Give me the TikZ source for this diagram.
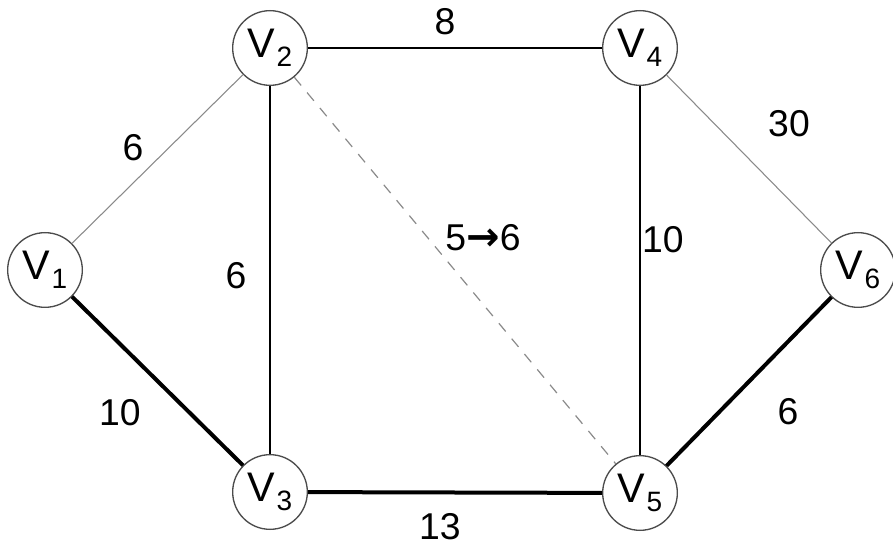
\documentclass[tikz,border=0pt]{standalone}
\usepackage{fontspec}
\setmainfont{Liberation Sans}
\newfontfamily\symfont{DejaVu Sans}
\usetikzlibrary{positioning}
\definecolor{edgeG}{HTML}{8A8A8A}
\newcommand{\Vsub}[1]{V\kern1pt\raisebox{-7pt}{\fontsize{21}{21}\selectfont #1}}

\begin{document}
\begin{tikzpicture}[x=0.75pt,y=-0.75pt,
  vtx/.style={draw=black!70,line width=1pt,circle,minimum size=56pt,inner sep=0pt,fill=white,font=\fontsize{31}{31}\selectfont},
  wgt/.style={font=\fontsize{28}{28}\selectfont,inner sep=1pt},
  plain/.style={black,line width=0.8pt},
  faint/.style={edgeG,line width=0.8pt},
  heavy/.style={black,line width=3pt},
  swap/.style={edgeG,line width=0.9pt,dash pattern=on 8pt off 7pt}]
  \useasboundingbox (0,0) rectangle (893,552);
  % vertices
  \node[vtx] (v1) at (45,270)  {\Vsub{1}};
  \node[vtx] (v2) at (270,48)  {\Vsub{2}};
  \node[vtx] (v3) at (270,492) {\Vsub{3}};
  \node[vtx] (v4) at (640,48)  {\Vsub{4}};
  \node[vtx] (v5) at (640,493) {\Vsub{5}};
  \node[vtx] (v6) at (858,270) {\Vsub{6}};
  % edges
  \draw[faint] (v1) -- (v2);
  \draw[plain] (v2) -- (v4);
  \draw[plain] (v2) -- (v3);
  \draw[plain] (v4) -- (v5);
  \draw[faint] (v4) -- (v6);
  \draw[swap]  (v2) -- (v5);
  \draw[heavy] (v1) -- (v3);
  \draw[heavy] (v3) -- (v5);
  \draw[heavy] (v5) -- (v6);
  % weights
  \node[wgt] (w24) at (445,22)  {8};
  \node[wgt] (w12) at (133,148) {6};
  \node[wgt] (w46) at (789,124) {30};
  \node[wgt] (w23) at (236,276) {6};
  \node[wgt] (w25) at (483,238) {5{\symfont\bfseries\fontsize{30}{30}\selectfont →}6};
  \node[wgt] (w45) at (663,240) {10};
  \node[wgt] (w13) at (120,413) {10};
  \node[wgt] (w56) at (788,412) {6};
  \node[wgt] (w35) at (440,527) {13};
\end{tikzpicture}
\end{document}
